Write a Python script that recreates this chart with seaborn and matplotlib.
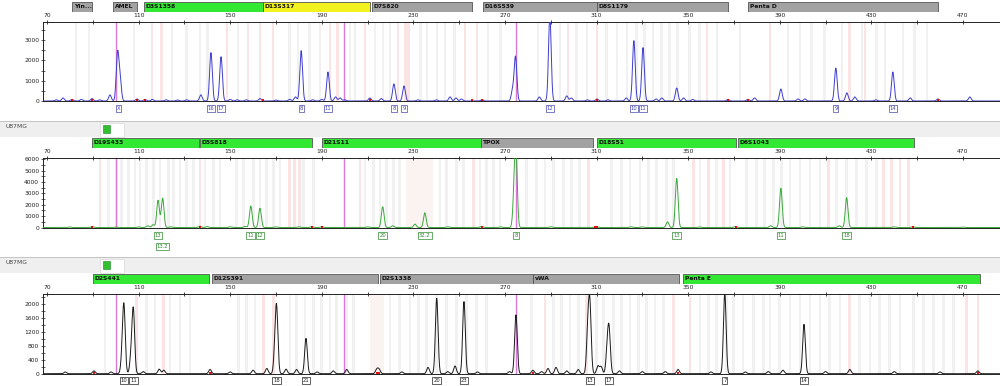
import numpy as np
import pandas as pd
import matplotlib.pyplot as plt
import seaborn as sns
from matplotlib.patches import Rectangle

W, H = 1000, 386
X_MIN, X_MAX = 68.25, 486.2

# ---------------- panel 1 (blue dye) ----------------
p1_pos = [74, 77, 80.9, 85, 89.7, 93, 97.5, 100.8, 101.9, 109.3, 112.8, 116, 122, 127, 131,
          137.2, 141.6, 146, 150, 153, 157, 163, 170, 176, 178.5, 181, 186, 190, 192.7, 196,
          198, 200, 211, 216, 221.5, 225.9, 232, 240, 246, 248.6, 251, 260, 273.3, 274.6, 285,
          289.6, 297, 299, 306, 310.2, 315, 323, 326.3, 330.3, 336, 338.5, 345, 348, 352, 367.4,
          376.1, 379, 390.5, 398, 401, 414.5, 419.3, 422.8, 432, 439.4, 447, 459.1, 473]
p1_h = [60, 150, 80, 80, 120, 60, 300, 2300, 1050, 100, 80, 80, 60, 50, 60,
        300, 2380, 2180, 80, 60, 60, 120, 50, 80, 200, 2480, 60, 80, 1430, 200,
        150, 60, 150, 120, 840, 740, 60, 60, 200, 150, 100, 60, 500, 2170, 200,
        4200, 250, 150, 60, 100, 60, 150, 2970, 2630, 100, 150, 640, 150, 80, 80,
        80, 150, 590, 100, 100, 1620, 400, 200, 60, 1430, 150, 100, 200]
p1_lab_pos = [101.2, 141.6, 146, 181, 192.7, 221.5, 225.9, 289.6, 326.3, 330.3, 414.5, 439.4]
p1_lab = ['X', '16', '17', '8', '11', '8', '9', '12', '10', '11', '9', '14']
p1_red = [80.9, 89.7, 109.3, 112.8, 164.3, 211, 255.6, 260, 310.2, 367.4, 376.1, 459.1]
p1_gray = [82.7, 88.3, 108, 124.6, 131, 136.8, 140, 153.4, 176, 179.6, 184.8, 189.2, 202.3,
           204.5, 213.2, 216.7, 219.8, 233, 236, 240.3, 243.8, 248, 262.6, 268, 284.4, 294,
           301.4, 305.8, 314.5, 318.9, 323.3, 327.6, 331.1, 334.6, 338.5, 342, 345.5, 350.7,
           355, 362.6, 372.6, 393.6, 398.8, 404, 409.7, 417.2, 425.9, 432.4, 436, 443.8, 449, 454.3]
p1_pink = [115.9, 120, 148.6, 157.8, 163, 168.7, 193.6, 197, 208.9, 223.3, 226.5, 228,
           252.6, 257.8, 297.5, 310.2, 358.2, 385.7, 420.6, 427.2]
p1_mk = ['Yin...', 'AMEL', 'D3S1358', 'D13S317', 'D7S820', 'D16S539', 'D8S1179', 'Penta D']
p1_mk_start = [80.9, 98.8, 112.4, 164.3, 211.9, 260.4, 310.2, 376.1]
p1_mk_end = [89.7, 109.3, 164.3, 211.0, 255.6, 310.2, 367.4, 459.1]
p1_mk_col = ['gray', 'gray', 'green', 'yellow', 'gray', 'gray', 'gray', 'gray']

# ---------------- panel 2 (green dye) ----------------
p2_pos = [80, 89.8, 100, 110, 114, 116.3, 118.5, 120.5, 124, 136.8, 140, 150, 156.5, 159, 163,
          170, 180, 185.6, 190, 210, 216.6, 221, 230.7, 235, 245, 259.8, 268, 274, 274.8, 290,
          310, 325, 330, 341, 345, 355, 370.7, 386, 390.5, 400, 416, 419.2, 440, 448.2, 470]
p2_h = [50, 80, 40, 60, 150, 250, 2400, 2580, 60, 120, 80, 60, 100, 1890, 1690,
        60, 60, 80, 80, 60, 1830, 150, 300, 1300, 60, 100, 50, 2400, 6500, 60,
        80, 60, 60, 500, 4330, 50, 100, 150, 3450, 60, 150, 2630, 60, 80, 40]
p2_lab_pos = [118.5, 120.5, 159, 163, 216.6, 235, 274.8, 345, 390.5, 419.2]
p2_lab = ['13', '13.2', '11', '12', '20', '32.2', '8', '13', '11', '18']
p2_lab_row = [0, 1, 0, 0, 0, 0, 0, 0, 0, 0]
p2_red = [89.8, 136.8, 185.6, 190, 259.8, 309.3, 310.2, 370.7, 448.2]
p2_gray = [96.8, 100.4, 102.6, 105.5, 108.4, 110.6, 113.5, 116.4, 119.3, 123, 125.2, 128.1,
           131, 133.9, 139, 142.6, 145.5, 152.8, 155.7, 160.1, 163, 165.9, 168.8, 171.7, 182,
           186.3, 208.9, 212.5, 215.4, 218.3, 221.2, 224.1, 241.6, 244.5, 248.9, 251.8, 259.1,
           262, 264.9, 267.8, 279.5, 283.8, 287.5, 291.1, 295.5, 299.1, 302.7, 316.6, 320.9,
           324.6, 329, 332.6, 336.2, 340.6, 343.5, 355.2, 362.4, 368.3, 375.5, 379.9, 383.5,
           387.2, 390.8, 394.5, 398.8, 403.2, 407.6, 414.9, 419.2, 423.6, 427.9, 432.3]
p2_pink = [93.1, 136.8, 175.8, 178, 180.3, 206.7, 256.2, 306.4, 352.2, 358.8, 365.4, 411.2,
           435.2, 438.9, 442.5, 446.2]
p2_pink_zone_start = [227.0]
p2_pink_zone_end = [238.7]
p2_mk = ['D19S433', 'D5S818', 'D21S11', 'TPOX', 'D18S51', 'D6S1043']
p2_mk_start = [89.7, 136.8, 190.0, 259.5, 310.2, 371.7]
p2_mk_end = [136.4, 185.7, 259.5, 308.4, 370.9, 448.6]
p2_mk_col = ['green', 'green', 'green', 'gray', 'green', 'green']

# ---------------- panel 3 (black dye) ----------------
p3_pos = [78, 90.5, 98, 102.8, 103.6, 106.7, 107.7, 112, 119, 121, 141.2, 150, 160, 166, 169.6,
          170.3, 174.4, 179, 183.1, 188, 195, 200.9, 214, 215, 225, 236.4, 240.2, 245, 248.2,
          252.1, 258, 272, 274.8, 282.2, 286, 288.8, 292.3, 297, 302, 306.2, 307.1, 310.6, 312,
          314.7, 315.5, 320, 330, 340, 345.6, 360, 366, 375, 385, 391.4, 400.6, 410, 420.6, 440,
          460, 476.5]
p3_h = [50, 80, 50, 400, 1860, 450, 1800, 60, 130, 100, 120, 50, 100, 150, 600,
        1680, 130, 120, 1010, 50, 80, 120, 120, 120, 50, 180, 2150, 60, 220,
        2060, 50, 60, 1680, 100, 60, 150, 180, 80, 120, 1150, 1820, 220, 200,
        650, 1130, 80, 60, 60, 120, 50, 2300, 50, 60, 100, 1410, 60, 120, 60,
        50, 80]
p3_lab_pos = [103.6, 107.7, 170.3, 183.1, 240.2, 252.1, 307.1, 315.5, 366, 400.6]
p3_lab = ['10', '11', '18', '21', '20', '23', '13', '17', '7', '14']
p3_red = [90.5, 141.2, 141.8, 214, 215, 282.2, 345.6, 476.5]
p3_gray = [95.3, 113.5, 117.2, 123.7, 128.1, 132.4, 153.5, 157.2, 160.8, 176.1, 179, 182.7,
           186.3, 190, 193.6, 196.5, 200.9, 203.8, 219.8, 224.1, 228.5, 232.1, 235.8, 240.2,
           244.5, 248.9, 253.2, 257.6, 262, 281.7, 291.1, 294.8, 298.4, 302.1, 310, 312.9,
           317.3, 320.9, 324.6, 328.2, 331.9, 335.5, 339.1, 355.2, 358.8, 362.4, 366.8, 369.7,
           374, 378.4, 382.8, 385.7, 390, 394.5, 398.8, 403.2, 407.6, 411.9, 416.3, 425, 429.4,
           433.7, 438.1, 442.5, 448.3, 452.7, 457, 461.4, 465.8]
p3_pink = [109.2, 120.8, 164.5, 168.8, 287.5, 305.7, 343.5, 350.8, 420.6, 471.6, 476.6]
p3_pink_zone_start = [211.0]
p3_pink_zone_end = [217.0]
p3_mk = ['D2S441', 'D12S391', 'D2S1338', 'vWA', 'Penta E']
p3_mk_start = [90.1, 142.0, 215.4, 282.2, 347.7]
p3_mk_end = [140.7, 214.5, 282.2, 346.0, 477.4]
p3_mk_col = ['green', 'gray', 'gray', 'gray', 'green']

# size standard (magenta) lines, shared by all dyes
std_lines = [100.2, 199.7, 274.7]

MK_COLORS = {'green': '#33e833', 'yellow': '#f2f21e', 'gray': '#a2a2a2'}

xs = np.arange(X_MIN, X_MAX, 0.04)


def make_trace(pos, heights, sig=0.58):
    y = np.zeros_like(xs)
    for p, a in zip(pos, heights):
        y += a * np.exp(-0.5 * ((xs - p) / sig) ** 2)
    return pd.DataFrame({'bp': xs, 'rfu': y})


def fr(x, y, w, h):
    return [x / W, 1 - (y + h) / H, w / W, h / H]


def marker_bar(rect, names, starts, ends, cols):
    ax = fig.add_axes(fr(*rect))
    ax.set_xlim(X_MIN, X_MAX)
    ax.set_ylim(0, 1)
    ax.axis('off')
    for n, s, e, c in zip(names, starts, ends, cols):
        ax.barh(0.5, e - s, left=s, height=1.0, color=MK_COLORS[c],
                edgecolor='#555555', linewidth=0.6)
        ax.text(s + 0.8, 0.5, n, fontsize=4.3, fontweight='bold', va='center', ha='left',
                color='#111111')
    return ax


def trace_panel(rect, ymax, yticks, yminor, df, color, gray, pink, zones,
                lab_pos, lab, lab_rows, row_y, red, lab_color):
    ax = fig.add_axes(fr(*rect))
    for z0, z1 in zip(*zones):
        ax.axvspan(z0, z1, color='#fbf2f2', lw=0, zorder=0)
    for b in gray:
        ax.axvspan(b - 0.6, b + 0.6, color='#f1f1f1', lw=0, zorder=0)
    for b in pink:
        ax.axvspan(b - 0.6, b + 0.6, color='#fbe4e4', lw=0, zorder=0)
    for s in std_lines:
        ax.axvline(s, color='#d97ad9', lw=1.0, zorder=1)
    sns.lineplot(data=df, x='bp', y='rfu', ax=ax, color=color, linewidth=0.7,
                 estimator=None, sort=False, zorder=3)
    sns.scatterplot(x=red, y=[ymax * 0.01] * len(red), ax=ax, color='#e01010',
                    marker='s', s=2.5, linewidth=0, zorder=4)
    ax.set_xlim(X_MIN, X_MAX)
    ax.set_ylim(0, ymax)
    ax.set_xlabel('')
    ax.set_ylabel('')
    ax.xaxis.tick_top()
    ax.set_xticks(range(70, 480, 40))
    ax.set_xticks(range(90, 480, 40), minor=True)
    ax.set_yticks(yticks)
    ax.set_yticks(yminor, minor=True)
    ax.tick_params(axis='x', which='both', direction='inout', length=3, width=0.6,
                   labelsize=4.3, pad=1.5, colors='#222222')
    ax.tick_params(axis='y', which='both', direction='inout', length=2.5, width=0.5,
                   labelsize=4.3, pad=1.5, colors='#222222')
    for side in ['top', 'left', 'bottom']:
        ax.spines[side].set_linewidth(0.7)
        ax.spines[side].set_color('#222222')
    ax.spines['right'].set_visible(False)
    tr = ax.get_xaxis_transform()
    for p, t, r in zip(lab_pos, lab, lab_rows):
        ax.text(p, row_y[r], t, transform=tr, fontsize=3.8, ha='center', va='center',
                color=lab_color, clip_on=False,
                bbox=dict(boxstyle='square,pad=0.18', fc='white', ec=lab_color, lw=0.5))
    return ax


fig = plt.figure(figsize=(W / 100, H / 100), dpi=100)
fig.patch.set_facecolor('white')

# header strips for the 2nd and 3rd dye rows
for top in [120, 256]:
    fig.patches.append(Rectangle((0, 1 - (top + 17) / H), 1, 15 / H, transform=fig.transFigure,
                                 fc='#efefef', ec='none'))
    fig.patches.append(Rectangle((0, 1 - (top + 2) / H), 1, 1.2 / H, transform=fig.transFigure,
                                 fc='#c4c4c4', ec='none'))
    fig.patches.append(Rectangle((100 / W, 1 - (top + 17) / H), 24 / W, 14 / H,
                                 transform=fig.transFigure, fc='white', ec='#d0d0d0', lw=0.4))
    fig.patches.append(Rectangle((103 / W, 1 - (top + 13) / H), 7 / W, 8 / H,
                                 transform=fig.transFigure, fc='#30c030', ec='#208020', lw=0.4))
    fig.text(5 / W, 1 - (top + 7) / H, 'U87MG', fontsize=4.3, color='#444444', va='center')

marker_bar((43, 2, 957, 10), p1_mk, p1_mk_start, p1_mk_end, p1_mk_col)
marker_bar((43, 138, 957, 10), p2_mk, p2_mk_start, p2_mk_end, p2_mk_col)
marker_bar((43, 274, 957, 10), p3_mk, p3_mk_start, p3_mk_end, p3_mk_col)

trace_panel((43, 22, 957, 79), 3890, [0, 1000, 2000, 3000], [500, 1500, 2500, 3500],
            make_trace(p1_pos, p1_h), '#3d3dcf', p1_gray, p1_pink, ([], []),
            p1_lab_pos, p1_lab, [0] * len(p1_lab), [-0.095], p1_red, '#4848b0')
trace_panel((43, 158, 957, 69.5), 6120, list(range(0, 7000, 1000)),
            list(range(500, 6500, 1000)),
            make_trace(p2_pos, p2_h), '#3aa83a', p2_gray, p2_pink,
            (p2_pink_zone_start, p2_pink_zone_end),
            p2_lab_pos, p2_lab, p2_lab_row, [-0.115, -0.275], p2_red, '#2f8a2f')
trace_panel((43, 294, 957, 79.7), 2277, [0, 400, 800, 1200, 1600, 2000],
            [200, 600, 1000, 1400, 1800, 2200],
            make_trace(p3_pos, p3_h), '#1a1a1a', p3_gray, p3_pink,
            (p3_pink_zone_start, p3_pink_zone_end),
            p3_lab_pos, p3_lab, [0] * len(p3_lab), [-0.085], p3_red, '#222222')

fig.savefig('out.png', dpi=100)
